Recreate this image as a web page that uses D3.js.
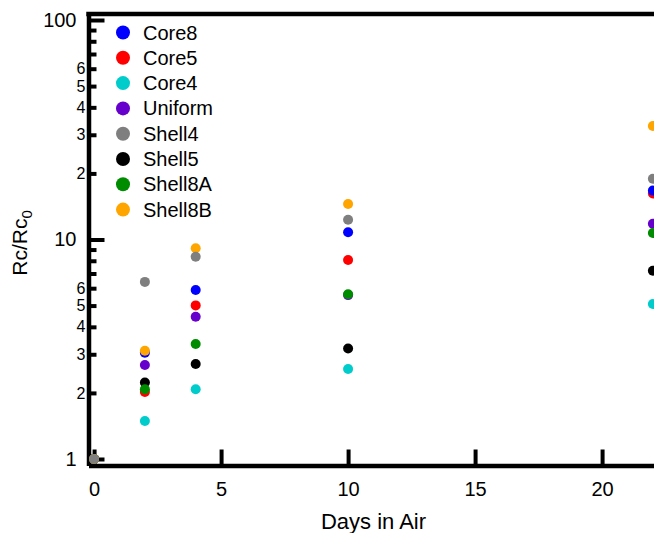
<!DOCTYPE html>
<html>
<head>
<meta charset="utf-8">
<script src="https://cdn.jsdelivr.net/npm/d3@7"></script>
<style>
  body { margin: 0; background: #fff; }
  svg { display: block; font-family: "Liberation Sans", Arial, sans-serif; }
</style>
</head>
<body>
<svg id="chart" width="654" height="533"></svg>
<script>
// data
const days = [0, 2, 4, 10, 22];
const core8   = [1, 3.05, 5.89, 10.8, 16.7];
const core5   = [1, 2.02, 5.01, 8.07, 16.2];
const core4   = [1, 1.49, 2.08, 2.57, 5.08];
const uniform = [1, 2.68, 4.45, 5.58, 11.8];
const shell4  = [1, 6.41, 8.35, 12.3, 18.9];
const shell5  = [1, 2.23, 2.71, 3.19, 7.21];
const shell8A = [1, 2.08, 3.34, 5.63, 10.7];
const shell8B = [1, 3.11, 9.12, 14.5, 32.9];

const xTicks = [0, 5, 10, 15, 20];
const yMajor = [1, 10, 100];
const yMinor = [2, 3, 4, 5, 6, 7, 8, 9, 20, 30, 40, 50, 60, 70, 80, 90];

const series = [
    { name: 'Core8',   values: core8,   color: '#0000ff' },
    { name: 'Core5',   values: core5,   color: '#ff0000' },
    { name: 'Core4',   values: core4,   color: '#00cccc' },
    { name: 'Uniform', values: uniform, color: '#6600cc' },
    { name: 'Shell4',  values: shell4,  color: '#7f7f7f' },
    { name: 'Shell5',  values: shell5,  color: '#000000' },
    { name: 'Shell8A', values: shell8A, color: '#008c00' },
    { name: 'Shell8B', values: shell8B, color: '#ffa500' }
];
// order the dots are painted in (later ones sit on top)
const drawOrder = ['Core5', 'Core8', 'Core4', 'Uniform', 'Shell5', 'Shell8A', 'Shell8B', 'Shell4'];

const svg = d3.select('#chart');

const plotLeft = 88.5, plotTop = 14, plotBottom = 465.5;
const x = d3.scaleLinear().domain([-0.22, 24]).range([plotLeft, plotLeft + 24.22 * 25.4]);
const y = d3.scaleLog().domain([0.934, 106.5]).range([plotBottom, plotTop]);

// minor y ticks (short, with small single digit labels)
const minorAxis = d3.axisLeft(y)
    .tickValues(yMinor)
    .tickSizeInner(-8)
    .tickSizeOuter(0)
    .tickPadding(3)
    .tickFormat(d => {
        const lead = +String(d)[0];
        return lead <= 6 ? String(lead) : '';
    });
const gMinor = svg.append('g').attr('transform', `translate(${plotLeft},0)`).call(minorAxis);
gMinor.select('.domain').remove();
gMinor.selectAll('line').attr('stroke', '#000').attr('stroke-width', 4);
gMinor.selectAll('text').attr('font-size', 16).attr('fill', '#000');

// major y ticks
const majorAxis = d3.axisLeft(y)
    .tickValues(yMajor)
    .tickSizeInner(-16)
    .tickSizeOuter(0)
    .tickPadding(12)
    .tickFormat(d3.format('d'));
const gMajor = svg.append('g').attr('transform', `translate(${plotLeft},0)`).call(majorAxis);
gMajor.select('.domain').attr('stroke', '#000').attr('stroke-width', 4.5);
gMajor.selectAll('line').attr('stroke', '#000').attr('stroke-width', 4);
gMajor.selectAll('text').attr('font-size', 20).attr('fill', '#000');

// x axis
const xAxis = d3.axisBottom(x)
    .tickValues(xTicks)
    .tickSizeInner(-16)
    .tickSizeOuter(0)
    .tickPadding(16);
const gx = svg.append('g').attr('transform', `translate(0,${plotBottom})`).call(xAxis);
gx.select('.domain').attr('stroke', '#000').attr('stroke-width', 4.5);
gx.selectAll('line').attr('stroke', '#000').attr('stroke-width', 4);
gx.selectAll('text').attr('font-size', 20).attr('fill', '#000');

// top frame line
svg.append('line')
    .attr('x1', plotLeft - 2.25).attr('x2', 660)
    .attr('y1', plotTop).attr('y2', plotTop)
    .attr('stroke', '#000').attr('stroke-width', 4.5);

// dots
const byName = {};
series.forEach(s => byName[s.name] = s);
drawOrder.forEach(name => {
    const s = byName[name];
    svg.append('g')
        .selectAll('circle')
        .data(days.map((d, i) => ({ day: d, v: s.values[i] })))
        .enter()
        .append('circle')
        .attr('cx', d => x(d.day))
        .attr('cy', d => y(d.v))
        .attr('r', 5)
        .attr('fill', s.color);
});

// legend
const legend = svg.append('g');
series.forEach((s, i) => {
    const ly = 32.5 + i * 25.3;
    legend.append('circle').attr('cx', 123).attr('cy', ly).attr('r', 7).attr('fill', s.color);
    legend.append('text')
        .attr('x', 143).attr('y', ly).attr('dy', '0.35em')
        .attr('font-size', 20).attr('fill', '#000')
        .text(s.name);
});

// axis titles
svg.append('text')
    .attr('x', x(11)).attr('y', 529)
    .attr('text-anchor', 'middle')
    .attr('font-size', 22)
    .text('Days in Air');

const yTitle = svg.append('text')
    .attr('transform', 'translate(27,243) rotate(-90)')
    .attr('text-anchor', 'middle')
    .attr('font-size', 21);
yTitle.append('tspan').text('Rc/Rc');
yTitle.append('tspan').attr('font-size', 15).attr('dy', 5).text('0');
</script>
</body>
</html>
